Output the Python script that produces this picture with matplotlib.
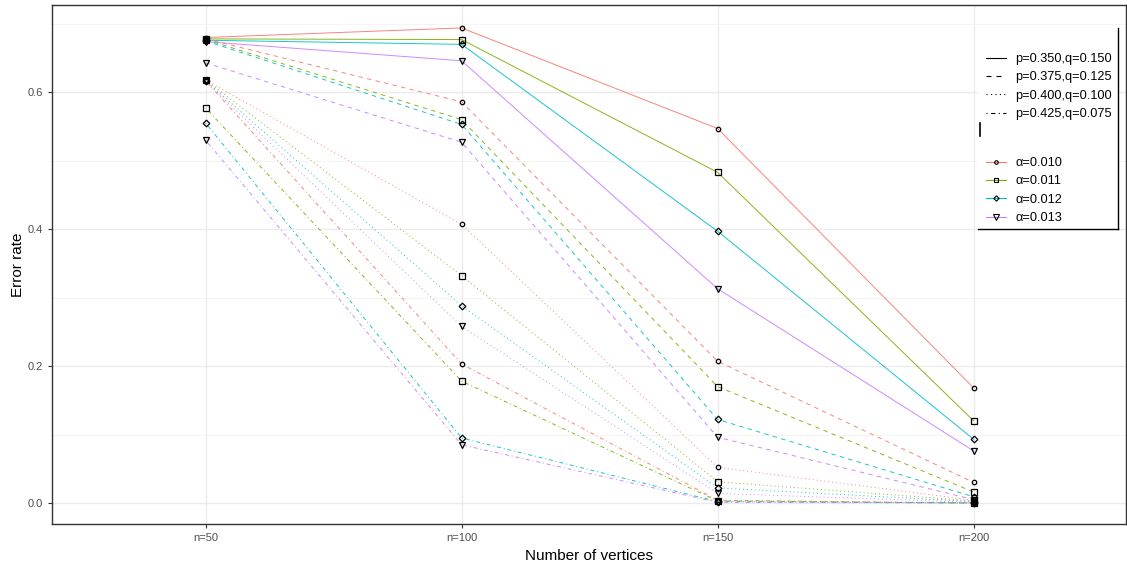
import matplotlib
matplotlib.use('agg')
import matplotlib.pyplot as plt
from matplotlib.lines import Line2D
from matplotlib.patches import Rectangle

plt.rcParams['font.family'] = ['Liberation Sans', 'DejaVu Sans']

n_labels = ["n=50", "n=100", "n=150", "n=200"]
alphas = ["0.010", "0.011", "0.012", "0.013"]
pq_labels = ["p=0.350,q=0.150", "p=0.375,q=0.125", "p=0.400,q=0.100", "p=0.425,q=0.075"]

# error rate per (p,q) setting, one row per alpha
solid = [
    [0.680, 0.694, 0.547, 0.168],
    [0.678, 0.677, 0.483, 0.120],
    [0.676, 0.670, 0.397, 0.093],
    [0.674, 0.646, 0.313, 0.076],
]
dashed = [
    [0.678, 0.586, 0.207, 0.030],
    [0.677, 0.560, 0.170, 0.016],
    [0.675, 0.553, 0.122, 0.009],
    [0.643, 0.527, 0.096, 0.005],
]
dotted = [
    [0.618, 0.407, 0.052, 0.004],
    [0.618, 0.332, 0.031, 0.003],
    [0.617, 0.288, 0.022, 0.002],
    [0.616, 0.258, 0.014, 0.001],
]
dotdash = [
    [0.617, 0.203, 0.004, 0.000],
    [0.577, 0.178, 0.003, 0.000],
    [0.555, 0.095, 0.002, 0.000],
    [0.530, 0.085, 0.001, 0.000],
]

colors = ["#F8766D", "#7CAE00", "#00BFC4", "#C77CFF"]
markers = ["o", "s", "D", "v"]
msizes = [3.2, 3.8, 3.4, 4.6]
styles = ["-", (0, (4.5, 4.5)), (0, (1, 3)), (0, (1, 3, 4, 3))]

fig = plt.figure(figsize=(11.27, 5.66), dpi=100)
W, H = 1127, 566
ax = fig.add_axes([52 / W, (H - 524) / H, (1126 - 52) / W, (524 - 5) / H])

x = list(range(len(n_labels)))
for series, ls in zip([solid, dashed, dotted, dotdash], styles):
    for i, vals in enumerate(series):
        ax.plot(x, vals, color=colors[i], linestyle=ls, linewidth=0.7, alpha=0.9, zorder=2)
        ax.plot(x, vals, linestyle="none", marker=markers[i], markersize=msizes[i],
                markerfacecolor="none", markeredgecolor="black", markeredgewidth=0.9, zorder=3)

ax.set_xlim(-0.6, 3.595)
ax.set_ylim(-0.0307, 0.7275)
ax.set_xticks(x)
ax.set_xticklabels(n_labels)
ax.set_yticks([0.0, 0.2, 0.4, 0.6])
ax.set_yticks([0.1, 0.3, 0.5, 0.7], minor=True)
ax.set_xticks([], minor=True)
ax.grid(True, which="major", color="#EBEBEB", linewidth=1.0)
ax.grid(True, which="minor", axis="y", color="#F3F3F3", linewidth=0.6)
ax.set_axisbelow(True)
ax.tick_params(axis="both", which="major", labelsize=8, colors="#333333", labelcolor="#4D4D4D", length=3)
ax.tick_params(axis="y", which="minor", length=0)
for s in ax.spines.values():
    s.set_color("#333333")
    s.set_linewidth(1.0)
ax.set_xlabel("Number of vertices", fontsize=11, labelpad=4)
ax.set_ylabel("Error rate", fontsize=11, labelpad=2)

# legend box
fig.add_artist(Rectangle((978 / W, (H - 229) / H), (1118 - 978) / W, (229 - 28) / H,
                         transform=fig.transFigure, facecolor="white", edgecolor="none", zorder=4))
fig.add_artist(Line2D([1118 / W, 1118 / W], [(H - 28) / H, (H - 229) / H], transform=fig.transFigure,
                      color="black", linewidth=1.0, zorder=5))
fig.add_artist(Line2D([978 / W, 1118 / W], [(H - 229) / H, (H - 229) / H], transform=fig.transFigure,
                      color="black", linewidth=1.0, zorder=5))
fig.add_artist(Line2D([979.5 / W, 979.5 / W], [(H - 123) / H, (H - 136) / H], transform=fig.transFigure,
                      color="black", linewidth=1.2, zorder=5))

lt_handles = [Line2D([], [], color="black", linestyle=ls, linewidth=0.8) for ls in styles]
leg1 = fig.legend(lt_handles, pq_labels, loc="upper left", bbox_to_anchor=(986 / W, (H - 53) / H),
                  frameon=False, fontsize=9.2, handlelength=1.6, handletextpad=0.7,
                  labelspacing=0.5, borderpad=0, borderaxespad=0)
leg1.set_zorder(6)

al_handles = [Line2D([], [], color=colors[i], linewidth=0.8, marker=markers[i], markersize=msizes[i] * 0.8,
                     markerfacecolor="none", markeredgecolor="black", markeredgewidth=0.8) for i in range(4)]
leg2 = fig.legend(al_handles, ["\u03b1=" + a for a in alphas], loc="upper left",
                  bbox_to_anchor=(986 / W, (H - 157) / H), frameon=False, fontsize=9.2,
                  handlelength=1.6, handletextpad=0.7, labelspacing=0.5, borderpad=0, borderaxespad=0)
leg2.set_zorder(6)

fig.savefig("out.png", dpi=100)
